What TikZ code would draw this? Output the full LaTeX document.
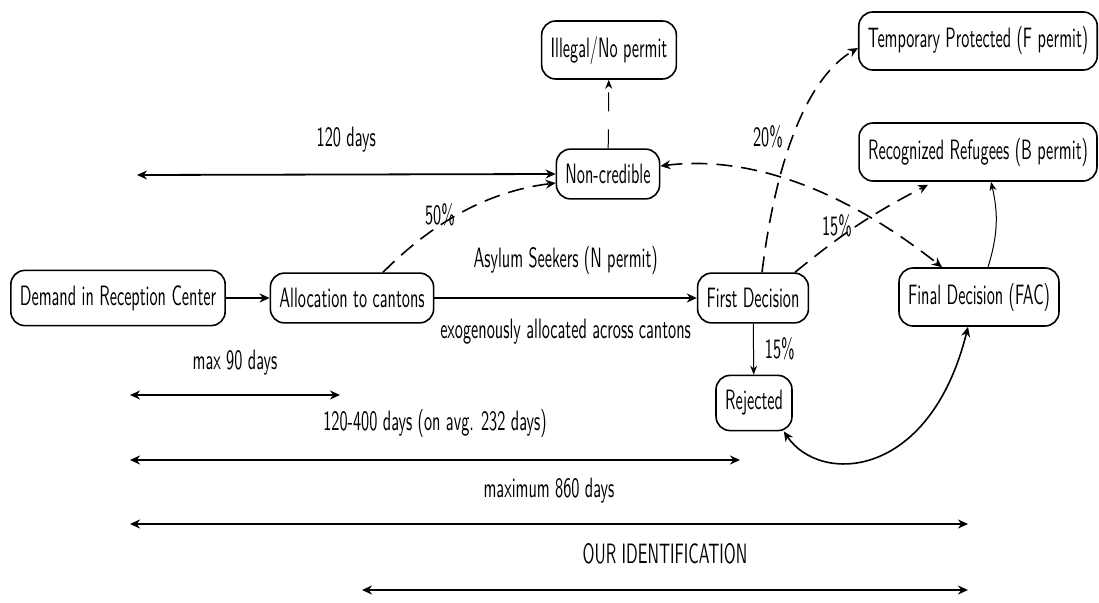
\documentclass[tikz,border=0pt]{standalone}
\usepackage{fontspec}
\setsansfont{lmsans10-regular.otf}[FakeStretch=0.58]
\usetikzlibrary{arrows.meta}
\begin{document}
\begin{tikzpicture}[x=1pt,y=-1pt,
  font=\sffamily\fontsize{28}{30}\selectfont,
  >={Stealth[length=10pt,width=9pt]},
  box/.style={draw, line width=1.6pt, rounded corners=14pt, inner xsep=9pt, inner ysep=15pt},
  thk/.style={line width=1.8pt, ->},
  rng/.style={line width=1.8pt, <->},
  dsh/.style={line width=1.6pt, dash pattern=on 16pt off 9pt},
  thn/.style={line width=1pt, -{Stealth[length=9pt,width=7pt]}},
  lbl/.style={inner sep=0pt}
]
\useasboundingbox (0,0) rectangle (1099,602);

% nodes
\node[box] (dem) at (118,298) {Demand in Reception Center};
\node[box] (alc) at (352,298) {Allocation to cantons};
\node[box] (fst) at (753,298) {First Decision};
\node[box] (fin) at (979,297) {Final Decision (FAC)};
\node[box] (rej) at (754,403) {Rejected};
\node[box] (ncr) at (608,174) {Non-credible};
\node[box] (ill) at (609,50) {Illegal/No permit};
\node[box] (tmp) at (978,41) {Temporary Protected (F permit)};
\node[box] (rec) at (978,152) {Recognized Refugees (B permit)};

% main flow
\draw[thk] (dem) -- (alc);
\draw[thk] (alc) -- node[lbl, above=23pt] {Asylum Seekers (N permit)}
                    node[lbl, below=20pt] {exogenously allocated across cantons} (fst);

% dashed flows
\draw[dsh, ->] ([xshift=31pt]alc.north) .. controls (434,221) and (490,191) ..
   node[lbl, pos=0.4, xshift=-7pt, yshift=6pt] {50\%} ([yshift=-9pt]ncr.west);
\draw[dsh, ->] ([xshift=9pt]fst.north) .. controls (777,151) and (810,76) ..
   node[lbl, pos=0.45, xshift=-25pt] {20\%} ([yshift=-7pt]tmp.west);
\draw[dsh, ->] ([xshift=42pt]fst.north) to[bend left=6]
   node[lbl, pos=0.32, yshift=14pt] {15\%} ([xshift=-50pt,yshift=-3pt]rec.south);
\draw[dsh, <->] ([yshift=8pt]ncr.east) .. controls (749,155) and (843,189) .. ([xshift=-37pt]fin.north);

% thin and solid links
\draw[thn, dash pattern=on 19pt off 18pt] (ncr) -- (ill);
\draw[thn] (fst) -- node[lbl, right=11pt] {15\%} (rej);
\draw[line width=1.6pt, <->] ([xshift=-9pt]rej.south east) .. controls (820,485) and (930,480) .. ([xshift=-11pt]fin.south);
\draw[thn] ([xshift=9pt]fin.north) to[bend right=15] ([xshift=13pt]rec.south);

% ranges
\coordinate (r1a) at (137,175);
\draw[rng] (r1a) -- node[lbl, above=21pt] {120 days} (ncr.west);
\coordinate (r2a) at (130,395);
\coordinate (r2b) at (340,395);
\draw[rng] (r2a) -- node[lbl, above=19pt] {max 90 days} (r2b);
\coordinate (r3a) at (130,460);
\coordinate (r3b) at (740,460);
\draw[rng] (r3a) -- node[lbl, above=22pt] {120-400 days (on avg. 232 days)} (r3b);
\coordinate (r4a) at (130,524);
\coordinate (r4b) at (968,524);
\draw[rng] (r4a) -- node[lbl, above=20pt] {maximum 860 days} (r4b);
\coordinate (r5a) at (362,590);
\coordinate (r5b) at (968,590);
\draw[rng] (r5a) -- node[lbl, above=25pt] {OUR IDENTIFICATION} (r5b);
\end{tikzpicture}
\end{document}
